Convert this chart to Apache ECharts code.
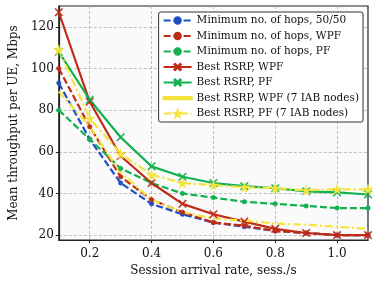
<!DOCTYPE html>
<html><head><meta charset="utf-8">
<script src="https://cdn.jsdelivr.net/npm/echarts@6/dist/echarts.min.js"></script>
<style>html,body{margin:0;padding:0;background:#fff}#c{width:374px;height:282px}</style>
</head><body><div id="c"></div>
<script>
const xValues = [0.1,0.2,0.3,0.4,0.5,0.6,0.7,0.8,0.9,1.0,1.1];
const minHops5050 = [93,66,45,35,30,26,24,22,21,20,20];
const minHopsWPF = [100,72,48,37,31,26,24.5,22,21,20,20];
const minHopsPF = [80,66,52,45,40,38,36,35,34,33,33];
const bestRsrpWPF = [127,84,58,45,35,30,26.5,23,21,20,20];
const bestRsrpPF = [108,85,67,53,48,45,43.5,42.5,41,40.5,39.5];
const bestRsrpWPF7 = [89,72,50,37,31,28,27,25.5,25,24,23];
const bestRsrpPF7 = [109,76,59,49,45,44,43,42.5,41.5,42,42];
const xTicks = [0.2,0.4,0.6,0.8,1.0];
const yTicks = [20,40,60,80,100,120];

const FONT = 'DejaVu Serif';
const X_SYM = 'path://M0,1L1,0L5,4L9,0L10,1L6,5L10,9L9,10L5,6L1,10L0,9L4,5Z';
const STAR = 'path://M50,0L61,35L98,35L68,57L79,91L50,70L21,91L32,57L2,35L39,35Z';
const pairs = a => xValues.map((x,i)=>[x,a[i]]);
const C = {blue:'#1f4fc4', red:'#c02a16', green:'#12b04e', yellow:'#f4e43c'};

function s(name, data, color, type, symbol, size, width){
  return {name, type:'line', data:pairs(data), symbol: symbol||'none', symbolSize:size||0,
    showSymbol: !!symbol, smooth:false,
    lineStyle:{color, width: width||2.2, type},
    itemStyle:{color, borderColor:color, borderWidth: 0.5}, emphasis:{disabled:true}};
}
const series = [
  s('Minimum no. of hops, 50/50', minHops5050, C.blue, [7,3], 'circle', 4.5),
  s('Minimum no. of hops, WPF', minHopsWPF, C.red, [7,3], 'circle', 4.5),
  s('Minimum no. of hops, PF', minHopsPF, C.green, [7,3], 'circle', 4.5),
  s('Best RSRP, WPF', bestRsrpWPF, C.red, 'solid', X_SYM, 8),
  s('Best RSRP, PF', bestRsrpPF, C.green, 'solid', X_SYM, 8),
  s('Best RSRP, WPF (7 IAB nodes)', bestRsrpWPF7, C.yellow, [8,3,2,3], null, 0),
  s('Best RSRP, PF (7 IAB nodes)', bestRsrpPF7, C.yellow, [8,3,2,3], STAR, 10)
];
const legendData = series.map(x => x.symbol === 'none'
  ? {name:x.name, icon:'path://M0,3L28,3L28,5.2L0,5.2Z M0,0L0.01,0L0,0Z M0,8L0.01,8L0,8Z'}
  : {name:x.name});

const chart = echarts.init(document.getElementById('c'), null, {renderer:'canvas'});
chart.setOption({
  animation:false,
  backgroundColor:'#ffffff',
  textStyle:{fontFamily:FONT},
  grid:{left:52, right:6, top:6, bottom:40, show:true, backgroundColor:'#fafafa', borderColor:'#222', borderWidth:1.2},
  xAxis:{type:'value', min:0.1, max:1.1,
    name:'Session arrival rate, sess./s', nameLocation:'middle', nameGap:24,
    nameTextStyle:{fontFamily:FONT, fontSize:12, color:'#111'},
    axisLine:{show:true, onZero:false, lineStyle:{color:'#222', width:1.2}},
    axisTick:{show:true, customValues:xTicks, length:3, lineStyle:{color:'#222'}},
    axisLabel:{customValues:xTicks, formatter:v=>v.toFixed(1), fontFamily:FONT, fontSize:12, color:'#111', margin:8},
    splitLine:{show:true, lineStyle:{color:'#b0b0b0', type:[3,2], width:0.8}}
  },
  yAxis:{type:'value', min:17.6, max:130,
    name:'Mean throughput per UE, Mbps', nameLocation:'middle', nameGap:31,
    nameTextStyle:{fontFamily:FONT, fontSize:12, color:'#111'},
    axisLine:{show:true, onZero:false, lineStyle:{color:'#222', width:1.2}},
    axisTick:{show:true, customValues:yTicks, length:3, lineStyle:{color:'#222'}},
    axisLabel:{customValues:yTicks, fontFamily:FONT, fontSize:12, color:'#111', margin:5},
    splitLine:{show:true, lineStyle:{color:'#b0b0b0', type:[3,2], width:0.8}}
  },
  legend:{orient:'vertical', right:11, top:12, itemGap:4.5, itemWidth:28, itemHeight:8,
    backgroundColor:'#ffffff', borderColor:'#333', borderWidth:1, borderRadius:2, padding:[3,4,3,4],
    textStyle:{fontFamily:FONT, fontSize:10.5, color:'#111'},
    data: legendData
  },
  series
});
</script></body></html>
